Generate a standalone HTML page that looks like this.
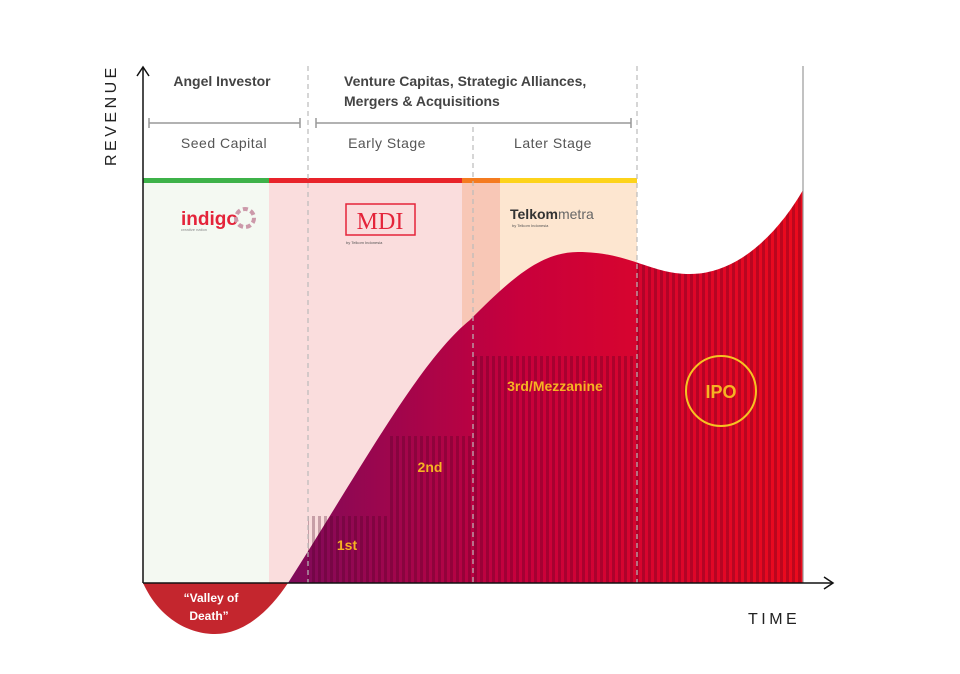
<!DOCTYPE html>
<html><head><meta charset="utf-8"><style>
html,body{margin:0;padding:0;background:#fff;}
svg{display:block;font-family:"Liberation Sans",sans-serif;}
</style></head><body>
<svg width="960" height="674" viewBox="0 0 960 674" xmlns="http://www.w3.org/2000/svg">
<defs>
<linearGradient id="g" x1="288" y1="0" x2="803" y2="0" gradientUnits="userSpaceOnUse">
<stop offset="0" stop-color="#7e0a5a"/><stop offset="0.45" stop-color="#c8003c"/><stop offset="1" stop-color="#ec0a1c"/>
</linearGradient>
<pattern id="st" x="0" y="0" width="6" height="10" patternUnits="userSpaceOnUse">
<rect x="0" y="0" width="3" height="10" fill="rgba(70,0,30,0.28)"/>
</pattern>
<clipPath id="steps"><path d="M308 516H390V436H473V356H637V583H308Z"/></clipPath>
<clipPath id="curve"><path id="cp" d="M288 583 C360 470 420 360 470 320 C510 280 540 252 578 252 C630 252 650 274 690 274 C740 274 780 230 803 190 V583 Z"/></clipPath>
</defs>
<!-- backgrounds -->
<rect x="143" y="182" width="126" height="401" fill="#f4f9f2"/>
<rect x="269" y="182" width="193" height="401" fill="#fadddd"/>
<rect x="462" y="182" width="38" height="401" fill="#f8c7b6"/>
<rect x="500" y="182" width="137" height="401" fill="#fde6d0"/>
<rect x="143" y="178" width="126" height="5" fill="#3db249"/>
<rect x="269" y="178" width="193" height="5" fill="#e8232a"/>
<rect x="462" y="178" width="38" height="5" fill="#f47b20"/>
<rect x="500" y="178" width="137" height="5" fill="#fdd31b"/>
<!-- logos -->
<text x="181" y="225" font-size="19" fill="#e4243a" font-weight="bold">indigo</text>
<text x="181" y="231" font-size="4" fill="#888">creative nation</text>
<circle cx="245" cy="218" r="9" fill="none" stroke="#c9a" stroke-width="4" stroke-dasharray="5 3"/>
<rect x="346" y="204" width="69" height="31" fill="none" stroke="#e4243a" stroke-width="1.5"/>
<text x="380" y="229" font-size="24" fill="#e4243a" text-anchor="middle" font-family="Liberation Serif,serif">MDI</text>
<text x="346" y="244" font-size="4" fill="#555">by Telkom Indonesia</text>
<text x="510" y="219" font-size="14" fill="#333" font-weight="bold">Telkom<tspan fill="#666" font-weight="normal">metra</tspan></text>
<text x="512" y="227" font-size="4" fill="#555">by Telkom Indonesia</text>
<!-- curve fill -->
<use href="#cp" fill="url(#g)"/>
<rect x="300" y="300" width="510" height="290" fill="url(#st)" clip-path="url(#steps)"/>
<rect x="637" y="180" width="170" height="410" fill="url(#st)" clip-path="url(#curve)"/>
<!-- valley -->
<path d="M143 583 C160 620 190 634 215 634 C245 634 270 610 288 583 Z" fill="#c4262e"/>
<text x="211" y="602" font-size="12" fill="#fff" font-weight="bold" text-anchor="middle">“Valley of</text>
<text x="209" y="620" font-size="12" fill="#fff" font-weight="bold" text-anchor="middle">Death”</text>
<!-- dashed lines -->
<g stroke="#bbb" stroke-width="1.2" stroke-dasharray="5 4">
<line x1="308" y1="66" x2="308" y2="583"/>
<line x1="473" y1="127" x2="473" y2="583"/>
<line x1="637" y1="66" x2="637" y2="583"/>
</g>
<line x1="803" y1="66" x2="803" y2="583" stroke="#999" stroke-width="1.2"/>
<!-- axes -->
<line x1="143" y1="583" x2="143" y2="68" stroke="#111" stroke-width="1.5"/>
<path d="M137 76 L143 67 L149 76" fill="none" stroke="#111" stroke-width="1.5"/>
<line x1="143" y1="583" x2="832" y2="583" stroke="#111" stroke-width="1.5"/>
<path d="M824 577 L833 583 L824 589" fill="none" stroke="#111" stroke-width="1.5"/>
<text transform="translate(116,166) rotate(-90)" font-size="16" fill="#222" letter-spacing="3.5">REVENUE</text>
<text x="748" y="624" font-size="16" fill="#222" letter-spacing="3.5">TIME</text>
<!-- headers -->
<text x="222" y="86" font-size="14" fill="#444" font-weight="bold" text-anchor="middle">Angel Investor</text>
<text x="344" y="86" font-size="14" fill="#444" font-weight="bold">Venture Capitas, Strategic Alliances,</text>
<text x="344" y="106" font-size="14" fill="#444" font-weight="bold">Mergers &amp; Acquisitions</text>
<g stroke="#999" stroke-width="1.5">
<line x1="149" y1="123" x2="300" y2="123"/><line x1="149" y1="118" x2="149" y2="128"/><line x1="300" y1="118" x2="300" y2="128"/>
<line x1="316" y1="123" x2="631" y2="123"/><line x1="316" y1="118" x2="316" y2="128"/><line x1="631" y1="118" x2="631" y2="128"/>
</g>
<text x="224" y="148" font-size="14" fill="#555" text-anchor="middle" letter-spacing="0.5">Seed Capital</text>
<text x="387" y="148" font-size="14" fill="#555" text-anchor="middle" letter-spacing="0.5">Early Stage</text>
<text x="553" y="148" font-size="14" fill="#555" text-anchor="middle" letter-spacing="0.5">Later Stage</text>
<!-- stage labels -->
<g fill="#f6b322" font-weight="bold" font-size="14" text-anchor="middle">
<text x="347" y="550">1st</text>
<text x="430" y="472">2nd</text>
<text x="555" y="391">3rd/Mezzanine</text>
<text x="721" y="398" font-size="18">IPO</text>
</g>
<circle cx="721" cy="391" r="35" fill="none" stroke="#f6c322" stroke-width="2"/>
</svg>
</body></html>
